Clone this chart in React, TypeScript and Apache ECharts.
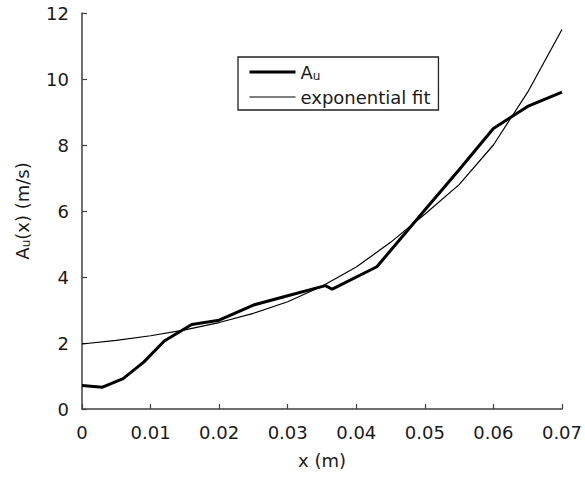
import React, { useEffect, useRef } from "react";
import * as echarts from "echarts";

const FONT = "DejaVu Sans";
const TEXT = "#1a1a1a";
const AXIS = "#404040";

const auX = [0, 0.003, 0.006, 0.009, 0.012, 0.016, 0.02, 0.025, 0.03, 0.0355, 0.0365, 0.043, 0.05, 0.055, 0.06, 0.065, 0.07];
const auY = [0.71, 0.66, 0.92, 1.42, 2.06, 2.56, 2.69, 3.15, 3.43, 3.74, 3.63, 4.31, 6.03, 7.25, 8.5, 9.17, 9.6];

const fitX = [0, 0.005, 0.01, 0.015, 0.02, 0.025, 0.03, 0.035, 0.04, 0.045, 0.05, 0.055, 0.06, 0.065, 0.07];
const fitY = [1.97, 2.08, 2.22, 2.4, 2.62, 2.9, 3.25, 3.72, 4.3, 5.05, 5.9, 6.8, 8.0, 9.6, 11.5];

const xTicks = { min: 0, max: 0.07, interval: 0.01 };
const yTicks = { min: 0, max: 12, interval: 2 };

const rich = {
  a: { fontSize: 18, fontFamily: FONT, color: TEXT, lineHeight: 20 },
  s: { fontSize: 12, fontFamily: FONT, color: TEXT, lineHeight: 9, verticalAlign: "bottom" },
};

export default function App() {
  const ref = useRef<HTMLDivElement>(null);
  useEffect(() => {
    if (!ref.current) return;
    const chart = echarts.init(ref.current, undefined, { renderer: "svg" });
    chart.setOption({
      animation: false,
      backgroundColor: "#ffffff",
      grid: { left: 82, right: 18, top: 13, bottom: 69, containLabel: false },
      legend: {
        orient: "vertical",
        left: 238,
        top: 57,
        padding: [6, 8, 4, 10],
        borderColor: "#222",
        borderWidth: 1.3,
        itemWidth: 46,
        itemHeight: 14,
        itemGap: 6,
        data: [
          { name: "Au", itemStyle: { opacity: 0 }, lineStyle: { color: "#000", width: 3 } },
          { name: "exponential fit", itemStyle: { opacity: 0 }, lineStyle: { color: "#000", width: 1.2 } },
        ],
        formatter: (name: string) => (name === "Au" ? "{a|A}{s|u}" : "{a|exponential fit}"),
        textStyle: { fontFamily: FONT, fontSize: 18, color: TEXT, rich },
      },
      xAxis: {
        type: "value",
        min: xTicks.min,
        max: xTicks.max,
        interval: xTicks.interval,
        name: "x (m)",
        nameLocation: "middle",
        nameGap: 42,
        nameTextStyle: { fontFamily: FONT, fontSize: 18, color: TEXT },
        axisLine: { show: true, lineStyle: { color: AXIS, width: 1.5 } },
        axisTick: { show: true, inside: true, length: 5, lineStyle: { color: AXIS, width: 1.2 } },
        axisLabel: {
          fontFamily: FONT,
          fontSize: 18,
          color: TEXT,
          margin: 14,
          formatter: (v: number) => (v === 0 ? "0" : v.toFixed(2)),
        },
        splitLine: { show: false },
      },
      yAxis: {
        type: "value",
        min: yTicks.min,
        max: yTicks.max,
        interval: yTicks.interval,
        name: "{a|A}{s|u}{a|(x) (m/s)}",
        nameLocation: "middle",
        nameGap: 50,
        nameRotate: 90,
        nameTextStyle: { fontFamily: FONT, fontSize: 18, color: TEXT, rich },
        axisLine: { show: true, lineStyle: { color: AXIS, width: 1.5 } },
        axisTick: { show: true, inside: true, length: 5, lineStyle: { color: AXIS, width: 1.2 } },
        axisLabel: { fontFamily: FONT, fontSize: 18, color: TEXT, margin: 13 },
        splitLine: { show: false },
      },
      series: [
        {
          name: "Au",
          type: "line",
          data: auX.map((x, i) => [x, auY[i]]),
          symbol: "none",
          lineStyle: { color: "#000", width: 3 },
          itemStyle: { color: "#000" },
          z: 3,
        },
        {
          name: "exponential fit",
          type: "line",
          data: fitX.map((x, i) => [x, fitY[i]]),
          symbol: "none",
          lineStyle: { color: "#000", width: 1.2 },
          itemStyle: { color: "#000" },
          z: 4,
        },
      ],
    });
    return () => chart.dispose();
  }, []);
  return <div ref={ref} style={{ width: 585, height: 478, position: "absolute", left: 0, top: 0 }} />;
}
